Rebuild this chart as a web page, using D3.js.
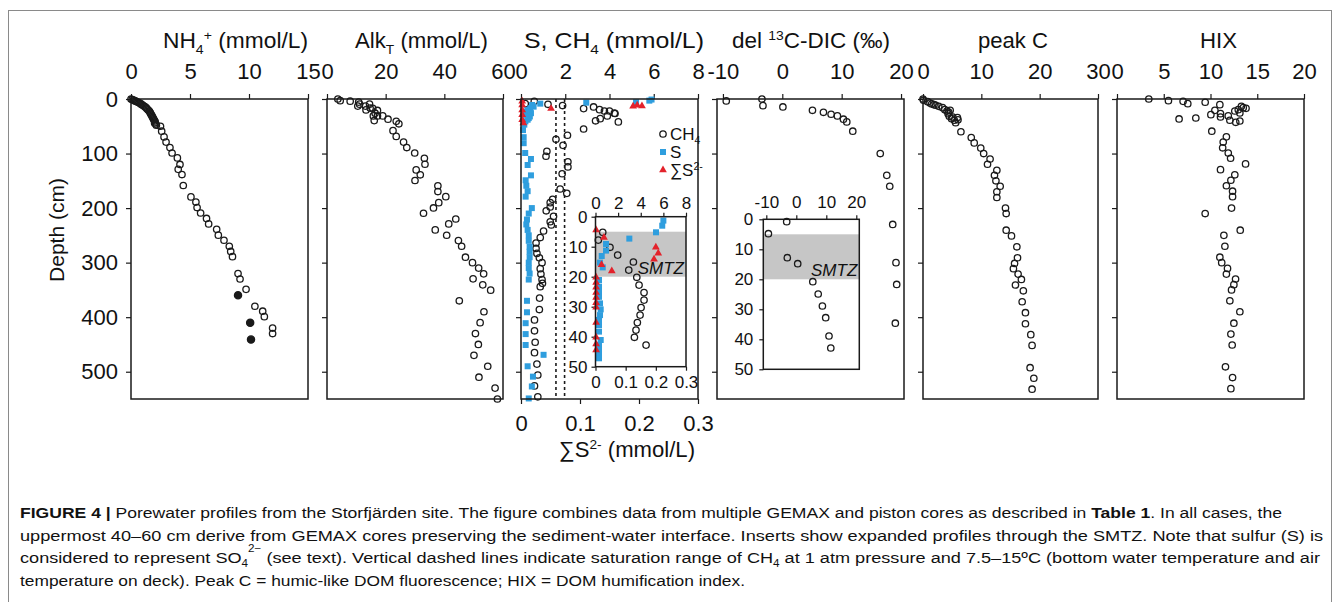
<!DOCTYPE html>
<html>
<head>
<meta charset="utf-8">
<script src="https://cdn.jsdelivr.net/npm/d3@7"></script>
<style>
    body { margin: 0; background: #fff; }
    svg text { font-family: 'Liberation Sans', Arial, sans-serif; fill: #111; }
</style>
</head>
<body>
<svg id="chart" width="1340" height="602"></svg>
<script>
'use strict';

// All profiles are [value, depth in cm]
const depthTicks = [0, 100, 200, 300, 400, 500];
const insetDepthTicks = [0, 10, 20, 30, 40, 50];
const smtzRange = [5, 20];

const nh4Ticks = [0, 5, 10, 15];
const nh4Open = [
    [0, 0], [0.1, 1], [0.2, 2], [0.3, 3], [0.4, 4], [0.5, 5], [0.6, 6], [0.7, 7], [0.8, 8.5], [0.9, 10],
    [1.0, 11.5], [1.1, 13], [1.2, 14.5], [1.3, 16], [1.35, 18], [1.45, 20], [1.55, 22], [1.6, 24], [1.65, 26],
    [1.7, 28], [1.75, 30], [1.8, 32], [1.85, 34], [1.9, 36], [1.95, 38], [2.0, 40], [2.05, 42], [2.0, 44],
    [2.1, 46], [2.15, 48], [2.5, 50], [2.6, 59], [2.8, 69.5], [2.97, 79], [3.3, 89], [3.48, 99], [3.93, 108],
    [4.15, 120], [4.0, 129], [4.32, 138.5], [4.43, 158.6], [5.08, 179.5], [5.5, 189], [5.6, 199], [5.9, 209],
    [6.4, 219], [6.58, 229], [7.26, 239], [7.4, 249.6], [7.88, 259], [8.33, 270], [8.45, 279.5], [8.6, 289],
    [9.07, 320], [9.24, 330], [9.75, 349], [10.5, 380], [11.16, 389], [11.3, 399], [12.0, 420], [12.0, 430]
];
const nh4Filled = [[9.07, 360], [10.1, 410], [10.17, 441]];

const alkTicks = [0, 20, 40, 60];
const alkData = [
    [3.7, 0], [4.5, 3], [7.9, 4], [10.8, 5.7], [11.1, 9.4], [10.5, 13], [13.1, 13], [14.5, 9.4], [14.7, 16.6],
    [13.3, 20], [15.6, 17], [17.2, 21], [16.4, 26], [17.2, 31], [15.8, 31], [19.0, 31], [16.1, 39.6], [20.8, 37],
    [23.6, 41], [24.5, 45.5], [22.5, 58], [23.6, 68.6], [26.1, 79], [27.2, 89], [29.9, 99], [33.2, 108.6],
    [33.4, 119.6], [30.4, 130], [31.8, 139], [30.0, 149.4], [37.8, 159], [37.8, 169.7], [40.5, 179], [38.1, 190],
    [36.3, 199.7], [32.9, 209.5], [43.9, 220], [41.5, 229], [36.9, 240], [40.8, 249.8], [44.8, 259.6], [45.9, 270],
    [47.2, 290], [49.6, 300], [51.7, 310], [53.4, 320.6], [49.8, 329.7], [53.1, 340.7], [55.8, 350.4], [45.1, 370],
    [53.5, 390], [52.2, 410], [50.6, 430], [51.6, 450], [50.1, 470], [54.8, 490], [51.8, 510], [57.3, 530], [58.1, 550]
];

const sulfTicks = [0, 2, 4, 6, 8];
const sulfideTicks = [0, 0.1, 0.2, 0.3];
const ch4Saturation = [1.58, 1.97];
const ch4Data = [
    [0.19, 8.5], [0.6, 4.2], [1.22, 9.7], [1.88, 12], [2.83, 17.6], [3.28, 14.6], [3.55, 19.5], [3.77, 22],
    [4.0, 22], [4.22, 26], [4.25, 26.6], [3.9, 31], [3.58, 36], [3.37, 40], [4.4, 42], [2.83, 55], [2.1, 66.5],
    [1.58, 74], [1.9, 85], [1.17, 96], [1.13, 105], [2.12, 115], [2.12, 124.5], [1.86, 137], [1.77, 165],
    [2.07, 173], [1.43, 184], [1.32, 190], [1.32, 198], [1.14, 205], [1.47, 215], [1.32, 225], [1.37, 231],
    [1.02, 242], [0.87, 254], [0.68, 264], [0.68, 274], [0.72, 283], [0.83, 291], [0.95, 300], [0.87, 311],
    [0.9, 321], [0.95, 331], [0.97, 338], [0.87, 344], [0.84, 365], [0.83, 386], [0.61, 405], [0.61, 425],
    [0.64, 446], [0.61, 465], [0.72, 486], [0.76, 506], [0.61, 526], [0.76, 546]
];
const sulfurData = [
    [5.9, 1], [5.8, 3], [5.2, 5.8], [2.95, 6.7], [0.87, 8.5], [0.57, 14], [0.5, 11], [0.42, 17], [0.27, 23],
    [0.2, 29], [0.35, 35], [0.2, 41], [0.15, 47], [0.3, 20], [0.45, 26], [0.4, 32], [0.3, 38], [0.09, 57],
    [0.12, 70], [0.12, 81], [0.19, 99], [0.45, 110], [0.3, 121], [0.45, 140], [0.21, 149], [0.24, 159],
    [0.3, 169], [0.21, 179], [0.49, 200], [0.35, 210], [0.27, 221], [0.24, 230], [0.3, 240], [0.35, 250],
    [0.35, 260], [0.39, 271], [0.39, 280], [0.39, 290], [0.35, 300], [0.35, 310], [0.39, 320], [0.35, 331],
    [0.27, 370], [0.27, 391], [0.21, 411], [0.21, 431], [0.21, 451], [1.02, 469], [0.3, 490], [0.54, 509],
    [0.49, 527], [0.35, 549]
];
const sulfideData = [
    [0.002, 4], [0.002, 11], [0.002, 20], [0.002, 29], [0.002, 38], [0.004, 44], [0.051, 17.6],
    [0.19, 13.4], [0.197, 11.5], [0.205, 12.8]
];
const ch4Inset = [
    [0.64, 5.2], [0.25, 7.8], [1.28, 10.2], [1.96, 12.8], [3.35, 15.1], [2.94, 17.8], [3.65, 20.2], [3.85, 22.8],
    [4.29, 25.3], [4.29, 27.8], [4.03, 30.3], [3.94, 32.8], [3.7, 35.3], [3.58, 37.8], [3.44, 40.2], [4.47, 42.8]
];
const sulfurInset = [
    [6.0, 1.3], [5.9, 3], [5.35, 5.2], [2.99, 7.3], [0.93, 9.1], [0.93, 11.3], [0.55, 13.1], [0.4, 15.3],
    [0.64, 16.9], [0.31, 21.1], [0.31, 23.3], [0.31, 25], [0.31, 26.7], [0.4, 28.9], [0.46, 30.9], [0.4, 32.8],
    [0.31, 34.4], [0.31, 36.1], [0.31, 38.3], [0.46, 41.1], [0.31, 42.8], [0.31, 44.4], [0.31, 45.5], [0.31, 47.2]
];
const sulfideInset = [
    [0.002, 4.4], [0.028, 6.9], [0.2, 10.2], [0.208, 12.2], [0.194, 14.2], [0.054, 18.1], [0.02, 16],
    [0.002, 20.2], [0.002, 21.9], [0.002, 23.5], [0.002, 25.3], [0.002, 26.9], [0.002, 28.7], [0.002, 30.2],
    [0.002, 35.3], [0.002, 40.2], [0.002, 42.4], [0.002, 44.4]
];

const dicTicks = [-10, 0, 10, 20];
const dicData = [
    [-9.44, 3.6], [-3.43, 0], [-3.26, 12.2], [0.1, 14.6], [5.08, 20.7], [6.93, 24.4], [8.22, 28], [9.28, 31],
    [10.3, 37], [10.86, 42], [11.87, 59], [16.5, 100], [17.6, 140], [18.1, 160], [18.6, 230], [19.15, 300],
    [19.27, 340], [19.04, 411]
];
const dicInset = [
    [-3.2, 0.8], [-9.3, 4.8], [-3.0, 12.8], [0.47, 14.8], [5.5, 20.8], [7.3, 24.9], [8.7, 28.9], [9.8, 32.8],
    [10.9, 38.9], [11.5, 42.9]
];

const peakCTicks = [0, 10, 20, 30];
const peakCData = [
    [0.0, 0], [0.1, 2.4], [0.8, 4.9], [1.2, 7.3], [1.9, 10.4], [2.7, 13.4], [3.35, 15.9], [3.75, 19.5], [4.1, 22],
    [4.66, 20.8], [4.3, 26.9], [4.5, 31.8], [4.9, 36], [5.37, 39], [5.9, 34], [6.0, 38], [5.6, 43.4], [1.5, 9],
    [2.2, 11.5], [4.4, 24], [5.1, 33], [6.5, 60], [8.27, 70.8], [8.78, 80.5], [9.9, 90], [10.4, 100], [11.5, 110],
    [11.06, 119.6], [12.66, 130.6], [12.25, 140], [12.5, 150], [13.23, 160], [12.66, 170], [12.66, 180.6],
    [14.14, 200], [14.26, 210], [14.26, 240.5], [15.17, 251], [16.09, 271], [16.2, 291], [15.7, 301.5],
    [15.5, 311], [16.3, 321], [16.87, 330.8], [15.85, 341], [17.2, 351.6], [17.0, 371.7], [17.56, 391.8],
    [17.56, 412], [18.48, 432], [18.7, 451.7], [18.36, 492.6], [19.0, 512], [18.7, 532]
];

const hixTicks = [0, 5, 10, 15, 20];
const hixData = [
    [3.4, 0], [5.5, 3], [7.07, 4.3], [7.57, 8.5], [9.43, 6], [11.0, 10.4], [10.47, 20.8], [10.04, 28.7],
    [11.07, 26.9], [11.07, 33], [11.9, 31], [12.07, 39], [12.7, 42.7], [13.14, 40.3], [12.6, 22], [12.97, 19.5],
    [13.14, 25.6], [13.3, 13.4], [13.5, 15.9], [13.8, 17.1], [6.64, 36.6], [8.43, 34.8], [10.14, 59], [11.7, 69.4],
    [11.36, 79], [11.3, 89.5], [11.9, 99], [12.15, 108.6], [13.75, 119], [11.07, 129.5], [12.6, 139], [12.18, 149],
    [11.7, 159], [12.36, 169], [12.36, 179], [12.25, 200], [9.43, 210], [13.18, 240.5], [11.43, 250], [11.54, 270],
    [11.0, 290], [11.2, 300], [11.82, 310.6], [11.7, 321], [12.68, 330], [12.5, 340.4], [12.25, 350], [12.07, 370],
    [13.14, 390], [12.5, 411], [12.18, 431], [12.32, 451], [11.6, 491], [12.36, 510.7], [12.18, 531]
];

const ink = '#1a1a1a';
const blue = '#2f9ede';
const red = '#e3222b';
const plotTop = 99;
const plotBottom = 399;
const plainNumber = d => String(d);  // keeps '-10' with a hyphen like the original

let svg = d3.select('#chart');

/*** Styles an axis group: no domain line, dark ticks, larger labels ***/
function styleAxis(g, fontSize) {
    g.attr('font-family', null).attr('font-size', null);
    g.select('.domain').remove();
    g.selectAll('.tick line').attr('stroke', ink).attr('stroke-width', 1.2);
    g.selectAll('.tick text').attr('fill', ink).attr('font-size', fontSize);
}

/*** Open or filled circle markers ***/
function addCircles(g, data, x, y, filled) {
    g.append('g').selectAll('circle')
        .data(data)
        .enter()
        .append('circle')
        .attr('cx', d => x(d[0]))
        .attr('cy', d => y(d[1]))
        .attr('r', filled ? 3.6 : 3.2)
        .attr('fill', filled ? ink : 'none')
        .attr('stroke', ink)
        .attr('stroke-width', 1.3);
}

function addSquares(g, data, x, y) {
    g.append('g').selectAll('rect')
        .data(data)
        .enter()
        .append('rect')
        .attr('x', d => x(d[0]) - 3)
        .attr('y', d => y(d[1]) - 3)
        .attr('width', 6)
        .attr('height', 6)
        .attr('fill', blue);
}

function addTriangles(g, data, x, y) {
    g.append('g').selectAll('path')
        .data(data)
        .enter()
        .append('path')
        .attr('d', d3.symbol(d3.symbolTriangle).size(26))
        .attr('transform', d => `translate(${x(d[0])}, ${y(d[1])})`)
        .attr('fill', red);
}

/*** Frame, top value axis and left depth ticks of one profile panel ***/
function drawPanel(left, right, domain, ticks, showDepthLabels) {
    let x = d3.scaleLinear().domain(domain).range([left, right]);
    let y = d3.scaleLinear().domain([0, 550]).range([plotTop, plotBottom]);
    let g = svg.append('g');

    g.append('g')
        .attr('transform', `translate(0, ${plotTop})`)
        .call(d3.axisTop(x).tickValues(ticks).tickSize(5).tickPadding(15).tickFormat(plainNumber))
        .call(a => styleAxis(a, 22));

    g.append('g')
        .attr('transform', `translate(${left}, 0)`)
        .call(d3.axisLeft(y).tickValues(depthTicks).tickSize(5).tickPadding(8)
            .tickFormat(showDepthLabels ? plainNumber : ''))
        .call(a => styleAxis(a, 22));

    return { g: g, x: x, y: y, left: left, right: right };
}

function drawFrame(g, x0, y0, x1, y1) {
    g.append('rect')
        .attr('x', x0).attr('y', y0)
        .attr('width', x1 - x0).attr('height', y1 - y0)
        .attr('fill', 'none')
        .attr('stroke', ink)
        .attr('stroke-width', 1.5);
}

/*** Title text with optional sub/superscripts given as [text, shift] parts ***/
function addTitle(x, yBase, parts, size, width) {
    let t = svg.append('text').attr('x', x).attr('y', yBase).attr('font-size', size);
    if (width) t.attr('textLength', width).attr('lengthAdjust', 'spacingAndGlyphs');
    let shift = 0;
    parts.forEach(p => {
        let s = p[1] || 0;
        let span = t.append('tspan').text(p[0]).attr('dy', s - shift);
        if (s !== 0) span.attr('font-size', size * 0.62);
        shift = s;
    });
    return t;
}

/*** Small inset with its own axes and the SMTZ band ***/
function drawInset(x0, x1, y0, y1, topDomain, topTicks, topPad, leftPad) {
    let g = svg.append('g');
    let x = d3.scaleLinear().domain(topDomain).range([x0, x1]);
    let y = d3.scaleLinear().domain([0, 50]).range([y0, y1]);

    g.append('rect')
        .attr('x', x0).attr('y', y0)
        .attr('width', x1 - x0).attr('height', y1 - y0)
        .attr('fill', '#fff');
    g.append('rect')
        .attr('x', x0).attr('y', y(smtzRange[0]))
        .attr('width', x1 - x0).attr('height', y(smtzRange[1]) - y(smtzRange[0]))
        .attr('fill', '#c6c6c6');

    g.append('g')
        .attr('transform', `translate(0, ${y0})`)
        .call(d3.axisTop(x).tickValues(topTicks).tickSize(4).tickPadding(topPad).tickFormat(plainNumber))
        .call(a => styleAxis(a, 17));
    g.append('g')
        .attr('transform', `translate(${x0}, 0)`)
        .call(d3.axisLeft(y).tickValues(insetDepthTicks).tickSize(4).tickPadding(leftPad))
        .call(a => styleAxis(a, 17));

    g.append('text')
        .attr('x', x1 - 2).attr('y', y(smtzRange[1]) - 3)
        .attr('text-anchor', 'end')
        .attr('font-size', 17)
        .attr('font-style', 'italic')
        .text('SMTZ');

    return { g: g, x: x, y: y };
}

function main() {
    // Panel 1: ammonium
    let p1 = drawPanel(131, 308, [0, 15], nh4Ticks, true);
    addCircles(p1.g, nh4Open, p1.x, p1.y, false);
    addCircles(p1.g, nh4Filled, p1.x, p1.y, true);
    drawFrame(p1.g, p1.left, plotTop, p1.right, plotBottom);

    // Panel 2: alkalinity
    let p2 = drawPanel(327, 503, [0, 60], alkTicks, false);
    addCircles(p2.g, alkData, p2.x, p2.y, false);
    drawFrame(p2.g, p2.left, plotTop, p2.right, plotBottom);

    // Panel 3: sulfate, methane, sulfide
    let p3 = drawPanel(521, 698, [0, 8], sulfTicks, false);
    let xS = d3.scaleLinear().domain([0, 0.3]).range([521, 698]);
    p3.g.append('g')
        .attr('transform', `translate(0, ${plotBottom})`)
        .call(d3.axisBottom(xS).tickValues(sulfideTicks).tickSize(5).tickPadding(11).tickFormat(plainNumber))
        .call(a => styleAxis(a, 22));
    p3.g.selectAll('.satLine')
        .data(ch4Saturation)
        .enter()
        .append('line')
        .attr('x1', d => p3.x(d)).attr('x2', d => p3.x(d))
        .attr('y1', plotTop).attr('y2', plotBottom)
        .attr('stroke', ink)
        .attr('stroke-width', 1.6)
        .attr('stroke-dasharray', '3,3');
    addCircles(p3.g, ch4Data, p3.x, p3.y, false);
    addSquares(p3.g, sulfurData, p3.x, p3.y);
    addTriangles(p3.g, sulfideData, xS, p3.y);

    // Legend
    let lg = p3.g.append('g');
    lg.append('circle').attr('cx', 663).attr('cy', 134).attr('r', 3.2)
        .attr('fill', 'none').attr('stroke', ink).attr('stroke-width', 1.3);
    lg.append('rect').attr('x', 660).attr('y', 149).attr('width', 6).attr('height', 6).attr('fill', blue);
    lg.append('path').attr('d', d3.symbol(d3.symbolTriangle).size(26)())
        .attr('transform', 'translate(663, 170)').attr('fill', red);
    addTitle(670, 140, [['CH'], ['4', 4]], 17);
    addTitle(670, 158, [['S']], 17);
    addTitle(670, 176, [['∑S'], ['2-', -6]], 17);

    let in1 = drawInset(595.5, 686, 216.7, 366.7, [0, 8], sulfTicks, 4, 4);
    let xS1 = d3.scaleLinear().domain([0, 0.3]).range([595.5, 686]);
    in1.g.append('g')
        .attr('transform', 'translate(0, 366.7)')
        .call(d3.axisBottom(xS1).tickValues(sulfideTicks).tickSize(4).tickPadding(5).tickFormat(plainNumber))
        .call(a => styleAxis(a, 17));
    addCircles(in1.g, ch4Inset, in1.x, in1.y, false);
    addSquares(in1.g, sulfurInset, in1.x, in1.y);
    addTriangles(in1.g, sulfideInset, xS1, in1.y);
    drawFrame(in1.g, 595.5, 216.7, 686, 366.7);
    drawFrame(p3.g, p3.left, plotTop, p3.right, plotBottom);

    // Panel 4: d13C-DIC
    let p4 = drawPanel(717, 904, [-11, 20.5], dicTicks, false);
    addCircles(p4.g, dicData, p4.x, p4.y, false);
    let in2 = drawInset(763.3, 859.3, 219.3, 369.3, [-11, 21], dicTicks, 7, 6);
    addCircles(in2.g, dicInset, in2.x, in2.y, false);
    drawFrame(in2.g, 763.3, 219.3, 859.3, 369.3);
    drawFrame(p4.g, p4.left, plotTop, p4.right, plotBottom);

    // Panel 5: peak C
    let p5 = drawPanel(923, 1098, [0, 30], peakCTicks, false);
    addCircles(p5.g, peakCData, p5.x, p5.y, false);
    drawFrame(p5.g, p5.left, plotTop, p5.right, plotBottom);

    // Panel 6: HIX
    let p6 = drawPanel(1117, 1304, [0, 20], hixTicks, false);
    addCircles(p6.g, hixData, p6.x, p6.y, false);
    drawFrame(p6.g, p6.left, plotTop, p6.right, plotBottom);

    // Titles
    addTitle(163, 48, [['NH'], ['4', 6], ['+', -8], [' (mmol/L)', 0]], 22, 145);
    addTitle(355, 48, [['Alk'], ['T', 6], [' (mmol/L)', 0]], 22, 133);
    addTitle(524, 48, [['S, CH'], ['4', 6], [' (mmol/L)', 0]], 22, 180);
    addTitle(732, 48, [['del '], ['13', -8], ['C-DIC (‰)', 0]], 22, 158);
    addTitle(978, 48, [['peak C']], 22, 70);
    addTitle(1200, 48, [['HIX']], 22, 37);
    addTitle(559, 457, [['∑S'], ['2-', -8], [' (mmol/L)', 0]], 22, 136);

    svg.append('text')
        .attr('transform', 'translate(64, 230) rotate(-90)')
        .attr('text-anchor', 'middle')
        .attr('font-size', 21)
        .text('Depth (cm)');

    // Outer frame
    svg.append('rect')
        .attr('x', 8.5).attr('y', 10.5)
        .attr('width', 1323).attr('height', 620)
        .attr('fill', 'none')
        .attr('stroke', '#8a8a8a')
        .attr('stroke-width', 1);

    addCaption();
}

/*** Figure caption, four lines fitted to their widths ***/
function addCaption() {
    const lines = [
        { w: 1262, parts: [['FIGURE 4 | ', 'bold'], ['Porewater profiles from the Storfjärden site. The figure combines data from multiple GEMAX and piston cores as described in '], ['Table 1', 'bold'], ['. In all cases, the']] },
        { w: 1303, parts: [['uppermost 40–60 cm derive from GEMAX cores preserving the sediment-water interface. Inserts show expanded profiles through the SMTZ. Note that sulfur (S) is']] },
        { w: 1300, parts: [['considered to represent SO'], ['4', 'sub'], ['2−', 'sup'], [' (see text). Vertical dashed lines indicate saturation range of CH'], ['4', 'sub'], [' at 1 atm pressure and 7.5–15ºC (bottom water temperature and air']] },
        { w: 725, parts: [['temperature on deck). Peak C = humic-like DOM fluorescence; HIX = DOM humification index.']] }
    ];
    lines.forEach((line, i) => {
        let t = svg.append('text')
            .attr('x', 20)
            .attr('y', 518 + i * 22.6)
            .attr('font-size', 15.5)
            .attr('fill', '#222')
            .attr('textLength', line.w)
            .attr('lengthAdjust', 'spacingAndGlyphs');
        let shift = 0;
        line.parts.forEach(p => {
            let span = t.append('tspan').text(p[0]);
            let s = 0;
            if (p[1] === 'bold') span.attr('font-weight', 'bold');
            if (p[1] === 'sub') { s = 4; span.attr('font-size', 10); }
            if (p[1] === 'sup') { s = -11; span.attr('font-size', 10); }
            span.attr('dy', s - shift);
            shift = s;
        });
    });
}

main();
</script>
</body>
</html>
